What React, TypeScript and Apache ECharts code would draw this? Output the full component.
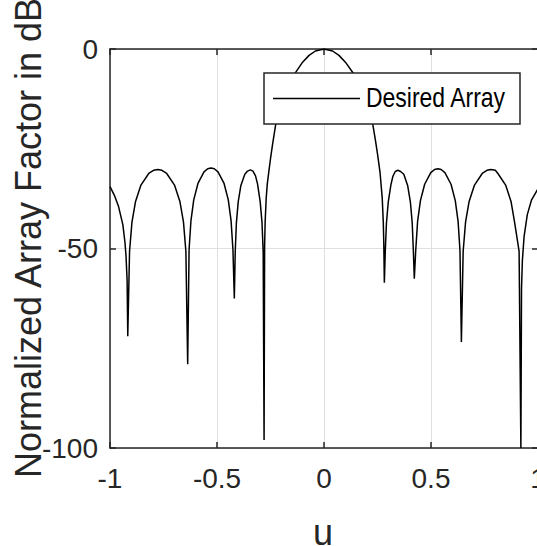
import React, { useEffect, useRef } from "react";
import * as echarts from "echarts";

// u (sin-space) vs normalized array factor in dB, segment by segment
const tailLeft: [number, number][] = [
  [-1, -34.5], [-0.98, -36.6], [-0.96, -39.5], [-0.94, -44], [-0.93, -48.5], [-0.925, -52], [-0.92, -58],
];
const null1: [number, number][] = [[-0.917, -72]];
const lobe1: [number, number][] = [
  [-0.9086, -50.7], [-0.8974, -43.4], [-0.8806, -38.2], [-0.8554, -34.1], [-0.819, -31.2], [-0.7966, -30.4],
  [-0.777, -30.2], [-0.7574, -30.4], [-0.735, -31.2], [-0.6986, -34.1], [-0.6734, -38.2], [-0.6566, -43.4],
  [-0.6454, -50.7],
];
const null2: [number, number][] = [[-0.637, -79]];
const lobe2: [number, number][] = [
  [-0.6305, -50.3], [-0.6217, -43.0], [-0.6087, -37.8], [-0.589, -33.7], [-0.5607, -30.8], [-0.5433, -30.0],
  [-0.528, -29.8], [-0.5127, -30.0], [-0.4953, -30.8], [-0.467, -33.7], [-0.4473, -37.8], [-0.4343, -43.0],
  [-0.4255, -50.3],
];
const null3: [number, number][] = [[-0.419, -62.5]];
const lobe3: [number, number][] = [
  [-0.4148, -50.8], [-0.4093, -43.5], [-0.4009, -38.3], [-0.3884, -34.2], [-0.37, -31.4], [-0.357, -30.6],
  [-0.344, -30.3], [-0.332, -30.6], [-0.32, -31.8], [-0.3106, -33.8], [-0.2981, -38.3], [-0.2897, -43.5],
  [-0.2842, -50.8],
];
const null4: [number, number][] = [[-0.28, -98]];
const mainLobe: [number, number][] = [
  [-0.2775, -49.3], [-0.275, -43.3], [-0.27, -37.3], [-0.265, -33.8], [-0.258, -30.8], [-0.25, -27.5],
  [-0.24, -23.8], [-0.226, -19], [-0.2, -14], [-0.18, -11.3], [-0.16, -8.6], [-0.134, -6], [-0.1, -3.3],
  [-0.07, -1.6], [-0.04, -0.5], [0, 0], [0.04, -0.5], [0.07, -1.6], [0.1, -3.3], [0.136, -6], [0.16, -8.5],
  [0.18, -11], [0.2, -13.8], [0.228, -18.9], [0.24, -22.8], [0.25, -26.3], [0.262, -31], [0.272, -37.3],
  [0.277, -43.3], [0.2795, -49],
];
const null5: [number, number][] = [[0.282, -58.6]];
const lobe4: [number, number][] = [
  [0.2862, -50.9], [0.2918, -43.6], [0.3002, -38.4], [0.3128, -34.0], [0.322, -31.9], [0.333, -30.7],
  [0.345, -30.4], [0.358, -30.7], [0.373, -31.4], [0.3912, -34.3], [0.4038, -38.4], [0.4122, -43.6],
  [0.4178, -50.9],
];
const null6: [number, number][] = [[0.422, -57.6]];
const lobe5: [number, number][] = [
  [0.4286, -50.5], [0.4374, -43.2], [0.4506, -38], [0.4704, -33.9], [0.499, -31], [0.5166, -30.2],
  [0.532, -30], [0.5474, -30.2], [0.565, -31], [0.5936, -33.9], [0.6134, -38], [0.6266, -43.2],
  [0.6354, -50.5],
];
const null7: [number, number][] = [[0.642, -73.4]];
const lobe6: [number, number][] = [
  [0.6503, -50.7], [0.6615, -43.4], [0.6781, -38.2], [0.7032, -34.1], [0.7393, -31.2], [0.7615, -30.4],
  [0.779, -30.2], [0.8005, -30.4], [0.8127, -31.2], [0.8488, -34.1], [0.8739, -38.2], [0.8905, -43.4],
  [0.9117, -50.7],
];
const null8: [number, number][] = [[0.92, -100]];
const tailRight: [number, number][] = [
  [0.923, -60], [0.927, -53], [0.935, -47], [0.95, -41.5], [0.97, -37.8], [1, -35],
];

const xTicks = { min: -1, max: 1, interval: 0.5 };
const yTicks = { min: -100, max: 0, interval: 50 };

const SERIES_NAME = "Desired Array";
const X_NAME = "u";
const Y_NAME = "Normalized Array Factor in dB";

const REGULAR = '"Liberation Sans", Arial, sans-serif';
const AX = "#262626";

export default function App() {
  const ref = useRef<HTMLDivElement>(null);

  useEffect(() => {
    if (!ref.current) return;
    const chart = echarts.init(ref.current, undefined, { renderer: "svg" });
    const data = [
      ...tailLeft, ...null1, ...lobe1, ...null2, ...lobe2, ...null3, ...lobe3, ...null4,
      ...mainLobe, ...null5, ...lobe4, ...null6, ...lobe5, ...null7, ...lobe6, ...null8, ...tailRight,
    ];
    const axLine = { show: true, onZero: false, lineStyle: { color: AX, width: 1.5 } };
    const tick = { show: true, inside: true, length: 6, lineStyle: { color: AX, width: 1.5 } };
    const label = { fontFamily: REGULAR, fontSize: 28, color: AX };
    chart.setOption({
      animation: false,
      backgroundColor: "#ffffff",
      grid: { left: 110, right: -1, top: 49, bottom: 98, containLabel: false, outerBoundsMode: "none" },
      xAxis: [
        {
          type: "value", ...xTicks, position: "bottom",
          axisLine: axLine, axisTick: tick,
          axisLabel: { ...label, margin: 16, formatter: (v: number) => String(v) },
          splitLine: { show: true, lineStyle: { color: "#dfdfdf", width: 1 } },
        },
        {
          type: "value", ...xTicks, position: "top",
          axisLine: axLine, axisTick: tick, axisLabel: { show: false }, splitLine: { show: false },
        },
      ],
      yAxis: [
        {
          type: "value", ...yTicks, position: "left",
          axisLine: axLine, axisTick: tick,
          axisLabel: { ...label, margin: 12, formatter: (v: number) => String(v) },
          splitLine: { show: true, lineStyle: { color: "#dfdfdf", width: 1 } },
        },
        {
          type: "value", ...yTicks, position: "right",
          axisLine: axLine, axisTick: tick, axisLabel: { show: false }, splitLine: { show: false },
        },
      ],
      series: [
        {
          name: SERIES_NAME,
          type: "line",
          data,
          showSymbol: false,
          symbol: "none",
          clip: true,
          lineStyle: { color: "#000000", width: 1.5 },
          z: 3,
        },
      ],
      graphic: [
        {
          type: "text", x: 28, y: 238, rotation: Math.PI / 2, z: 100,
          style: { text: Y_NAME, font: `36px ${REGULAR}`, fill: AX, textAlign: "center", textVerticalAlign: "middle" },
        },
        {
          type: "text", x: 323, y: 532, z: 100,
          style: { text: X_NAME, font: `36px ${REGULAR}`, fill: AX, textAlign: "center", textVerticalAlign: "middle" },
        },
        {
          type: "rect", z: 100,
          shape: { x: 264, y: 73, width: 256, height: 51 },
          style: { fill: "#ffffff", stroke: AX, lineWidth: 1.5 },
        },
        {
          type: "line", z: 101,
          shape: { x1: 273, y1: 98.5, x2: 360, y2: 98.5 },
          style: { stroke: "#000000", lineWidth: 1.5 },
        },
        {
          type: "text", x: 366, y: 97.5, z: 101, scaleX: 0.82,
          style: { text: SERIES_NAME, font: `28px ${REGULAR}`, fill: "#000000", textAlign: "left", textVerticalAlign: "middle" },
        },
      ],
    });
    return () => chart.dispose();
  }, []);

  return (
    <div
      ref={ref}
      style={{ position: "fixed", left: 0, top: 0, width: 537, height: 546, background: "#fff" }}
    />
  );
}
